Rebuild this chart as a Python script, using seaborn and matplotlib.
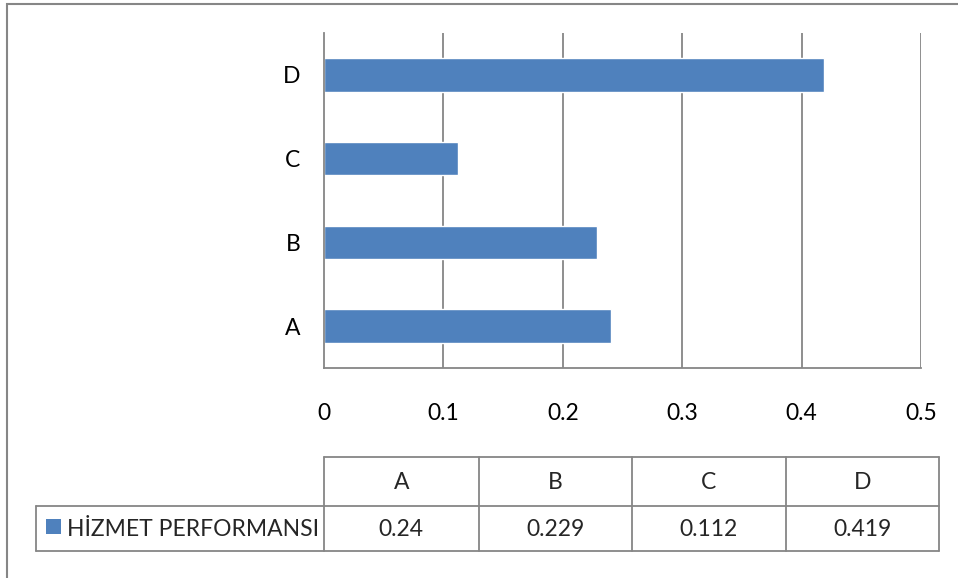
import matplotlib
matplotlib.use("Agg")
import matplotlib.pyplot as plt
from matplotlib.patches import Rectangle
from matplotlib.lines import Line2D
import pandas as pd
import seaborn as sns

# Data
categories = ["A", "B", "C", "D"]
values = [0.24, 0.229, 0.112, 0.419]
series_name = "HİZMET PERFORMANSI"
x_ticks = [0, 0.1, 0.2, 0.3, 0.4, 0.5]
x_tick_labels = ["0", "0.1", "0.2", "0.3", "0.4", "0.5"]

BAR = "#4F81BD"
GRID = "#868686"
FONT = "Lato"
FS = 16.5

sns.set_theme(style="white")
plt.rcParams["font.family"] = [FONT, "DejaVu Sans"]

W, H = 958, 578
fig = plt.figure(figsize=(W / 100, H / 100), dpi=100)


def fx(px):
    return px / W


def fy(py):
    return 1 - py / H


# Plot area
left, right, top, bottom = 324, 921, 33, 368
ax = fig.add_axes([fx(left), fy(bottom), fx(right - left), (bottom - top) / H])

df = pd.DataFrame({"category": categories, "value": values})
order = categories[::-1]
sns.barplot(data=df, x="value", y="category", order=order, orient="h",
            color=BAR, saturation=1, width=0.4, ax=ax, zorder=3)

ax.set_xlim(0, 0.5)
ax.set_ylim(3.5, -0.5)
ax.set_xticks(x_ticks)
ax.set_xticklabels(x_tick_labels, fontsize=FS, color="black")
ax.tick_params(axis="x", length=0, pad=25)
ax.tick_params(axis="y", length=0, pad=17, labelsize=FS, labelcolor="black")
ax.set_xlabel("")
ax.set_ylabel("")
for t in x_ticks[1:]:
    ax.axvline(t, color=GRID, lw=1.3, zorder=1)
for side in ["top", "right"]:
    ax.spines[side].set_visible(False)
for side in ["left", "bottom"]:
    ax.spines[side].set_color(GRID)
    ax.spines[side].set_linewidth(1.3)
    ax.spines[side].set_zorder(4)

# Data table below the chart
col_edges = [324, 478.5, 632, 785.5, 939]
row_edges = [457, 505.5, 551]
legend_left = 36
lw = 1.3


def hline(x0, x1, y):
    fig.add_artist(Line2D([fx(x0), fx(x1)], [fy(y), fy(y)], color=GRID, lw=lw))


def vline(x, y0, y1):
    fig.add_artist(Line2D([fx(x), fx(x)], [fy(y0), fy(y1)], color=GRID, lw=lw))


hline(col_edges[0], col_edges[-1], row_edges[0])
hline(legend_left, col_edges[-1], row_edges[1])
hline(legend_left, col_edges[-1], row_edges[2])
for x in col_edges:
    vline(x, row_edges[0], row_edges[2])
vline(legend_left, row_edges[1], row_edges[2])

head_y = (row_edges[0] + row_edges[1]) / 2 + 1
val_y = (row_edges[1] + row_edges[2]) / 2 + 1
for i, (cat, val) in enumerate(zip(categories, values)):
    cx = (col_edges[i] + col_edges[i + 1]) / 2
    fig.text(fx(cx), fy(head_y), cat, ha="center", va="center", fontsize=FS)
    fig.text(fx(cx), fy(val_y), f"{val:g}", ha="center", va="center", fontsize=FS)

# Legend key inside the table
fig.add_artist(Rectangle((fx(46), fy(534)), fx(15), 15 / H, color=BAR, lw=0))
fig.text(fx(67), fy(val_y), series_name, ha="left", va="center", fontsize=FS)

# Chart border
fig.add_artist(Rectangle((fx(7), fy(600)), fx(980), 596 / H, fill=False,
                         edgecolor=GRID, lw=1.5))

fig.savefig("out.png", dpi=100, facecolor="white")
